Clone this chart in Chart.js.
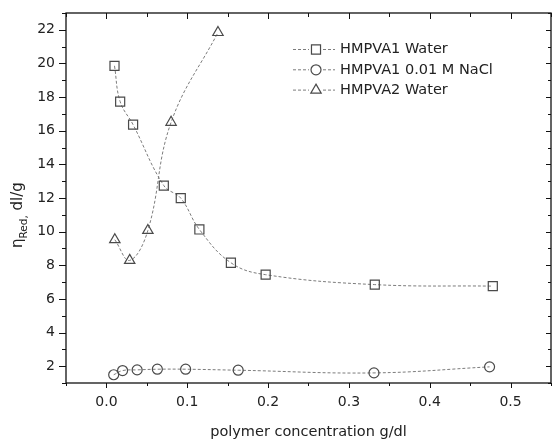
<!DOCTYPE html>
<html lang="en">
<head>
    <meta charset="UTF-8">
    <title>Reduced viscosity vs polymer concentration</title>
    <script src="https://cdn.jsdelivr.net/npm/chart.js@4.4.1/dist/chart.umd.min.js"></script>
    <style>
        body {
            margin: 0;
            padding: 0;
            background: #ffffff;
        }
        #chartContainer {
            position: relative;
            width: 552px;
            height: 439px;
        }
    </style>
</head>
<body>
    <div id="chartContainer">
        <canvas id="viscChart"></canvas>
    </div>

    <script>
        // HMPVA1 in water
        const concWater1 = [0.010, 0.017, 0.033, 0.071, 0.092, 0.115, 0.154, 0.197, 0.332, 0.478];
        const etaWater1 = [19.86, 17.73, 16.36, 12.74, 11.99, 10.13, 8.15, 7.44, 6.85, 6.76];

        // HMPVA1 in 0.01 M NaCl
        const concNaCl1 = [0.009, 0.020, 0.038, 0.063, 0.098, 0.163, 0.331, 0.474];
        const etaNaCl1 = [1.49, 1.74, 1.78, 1.82, 1.82, 1.76, 1.60, 1.96];

        // HMPVA2 in water
        const concWater2 = [0.0104, 0.0288, 0.0513, 0.080, 0.138];
        const etaWater2 = [9.52, 8.29, 10.07, 16.5, 21.84];

        const seriesLabels = ['HMPVA1 Water', 'HMPVA1 0.01 M NaCl', 'HMPVA2 Water'];

        // axis ticks
        const xTickValues = [0.0, 0.1, 0.2, 0.3, 0.4, 0.5];
        const yTickValues = [2, 4, 6, 8, 10, 12, 14, 16, 18, 20, 22];

        const FONT = '"DejaVu Sans", Verdana, sans-serif';
        const lineGray = '#7c7c7c';
        const markGray = '#4a4a4a';

        function pairs(xs, ys) {
            return xs.map((x, i) => ({ x: x, y: ys[i] }));
        }

        function makeSet(label, xs, ys, style, radius) {
            return {
                label: label,
                data: pairs(xs, ys),
                borderColor: lineGray,
                borderWidth: 1,
                borderDash: [3, 2],
                tension: 0.4,
                pointStyle: style,
                pointRadius: radius,
                pointBorderColor: markGray,
                pointBackgroundColor: 'rgba(255,255,255,0)',
                pointBorderWidth: 1.2,
                fill: false
            };
        }

        // marker shapes drawn the same way Chart.js draws them
        function drawMarker(ctx, style, x, y, r) {
            ctx.beginPath();
            if (style === 'rect') {
                const s = Math.SQRT1_2 * r;
                ctx.rect(x - s, y - s, 2 * s, 2 * s);
            } else if (style === 'triangle') {
                let a = 0;
                ctx.moveTo(x + Math.sin(a) * r, y - Math.cos(a) * r);
                a += 2 * Math.PI / 3;
                ctx.lineTo(x + Math.sin(a) * r, y - Math.cos(a) * r);
                a += 2 * Math.PI / 3;
                ctx.lineTo(x + Math.sin(a) * r, y - Math.cos(a) * r);
                ctx.closePath();
            } else {
                ctx.arc(x, y, r, 0, Math.PI * 2);
            }
            ctx.stroke();
        }

        // frame with ticks: outward on left/bottom, inward on top/right
        const framePlugin = {
            id: 'frame',
            afterDraw(chart) {
                const ctx = chart.ctx;
                const a = chart.chartArea;
                const xs = chart.scales.x;
                const ys = chart.scales.y;
                ctx.save();
                ctx.strokeStyle = '#111';
                ctx.lineWidth = 1.3;
                ctx.strokeRect(a.left, a.top, a.right - a.left, a.bottom - a.top);

                ctx.lineWidth = 1;
                ctx.beginPath();
                const xMinor = [];
                for (let v = xs.min; v <= xs.max + 1e-9; v += 0.05) xMinor.push(v);
                xMinor.forEach(v => {
                    const px = Math.round(xs.getPixelForValue(v)) + 0.5;
                    const major = xTickValues.some(t => Math.abs(t - v) < 1e-6);
                    ctx.moveTo(px, a.bottom);
                    ctx.lineTo(px, a.bottom + (major ? 5 : 3));
                    ctx.moveTo(px, a.top);
                    ctx.lineTo(px, a.top + (major ? 6 : 4));
                });
                for (let v = ys.min; v <= ys.max + 1e-9; v += 1) {
                    const py = Math.round(ys.getPixelForValue(v)) + 0.5;
                    const major = yTickValues.includes(v);
                    ctx.moveTo(a.left, py);
                    ctx.lineTo(a.left - (major ? 7 : 4), py);
                    ctx.moveTo(a.right, py);
                    ctx.lineTo(a.right - (major ? 5 : 3), py);
                }
                ctx.stroke();
                ctx.restore();
            }
        };

        // legend inside the plot, line + marker + text per series
        const legendPlugin = {
            id: 'insideLegend',
            afterDraw(chart) {
                const ctx = chart.ctx;
                ctx.save();
                chart.data.datasets.forEach((ds, i) => {
                    const y = 49.5 + i * 20.3;
                    ctx.strokeStyle = ds.borderColor;
                    ctx.lineWidth = 1;
                    ctx.setLineDash(ds.borderDash);
                    ctx.beginPath();
                    ctx.moveTo(293, y);
                    ctx.lineTo(335, y);
                    ctx.stroke();
                    ctx.setLineDash([]);
                    ctx.fillStyle = '#fff';
                    ctx.fillRect(309, y - 6, 14, 12);
                    ctx.strokeStyle = ds.pointBorderColor;
                    ctx.lineWidth = ds.pointBorderWidth;
                    drawMarker(ctx, ds.pointStyle, 316, y, ds.pointRadius);
                    ctx.fillStyle = '#222';
                    ctx.font = '14.5px ' + FONT;
                    ctx.textBaseline = 'middle';
                    ctx.fillText(ds.label, 340, y);
                });
                ctx.restore();
            }
        };

        // rotated y title with the "Red" subscript
        const yTitlePlugin = {
            id: 'yTitle',
            afterDraw(chart) {
                const ctx = chart.ctx;
                ctx.save();
                ctx.translate(22, 248);
                ctx.rotate(-Math.PI / 2);
                ctx.fillStyle = '#222';
                ctx.textBaseline = 'alphabetic';
                ctx.font = '15px ' + FONT;
                ctx.fillText('η', 0, 0);
                let w = ctx.measureText('η').width;
                ctx.font = '10.5px ' + FONT;
                ctx.fillText('Red,', w, 5);
                w += ctx.measureText('Red,').width;
                ctx.font = '15px ' + FONT;
                ctx.fillText(' dl/g', w, 0);
                ctx.restore();
            }
        };

        const config = {
            type: 'line',
            data: {
                datasets: [
                    makeSet(seriesLabels[0], concWater1, etaWater1, 'rect', 6.4),
                    makeSet(seriesLabels[1], concNaCl1, etaNaCl1, 'circle', 5),
                    makeSet(seriesLabels[2], concWater2, etaWater2, 'triangle', 6)
                ]
            },
            options: {
                animation: false,
                responsive: true,
                maintainAspectRatio: false,
                layout: {
                    autoPadding: false,
                    padding: { top: 13, right: 1, bottom: 0, left: 0 }
                },
                plugins: {
                    legend: { display: false },
                    tooltip: { enabled: false }
                },
                scales: {
                    x: {
                        type: 'linear',
                        min: -0.05,
                        max: 0.55,
                        grid: { display: false, drawTicks: false },
                        border: { display: false },
                        afterBuildTicks: s => { s.ticks = xTickValues.map(v => ({ value: v })); },
                        afterFit: s => {
                            s.height = 56;
                            s.paddingLeft = 0;
                            s.paddingRight = 0;
                        },
                        ticks: {
                            padding: 11,
                            color: '#222',
                            font: { size: 14 },
                            callback: v => v.toFixed(1)
                        },
                        title: {
                            display: true,
                            text: 'polymer concentration g/dl',
                            color: '#222',
                            font: { size: 14.5, lineHeight: 1 },
                            padding: { top: 0, bottom: 0 }
                        }
                    },
                    y: {
                        min: 1,
                        max: 23,
                        grid: { display: false, drawTicks: false },
                        border: { display: false },
                        afterBuildTicks: s => { s.ticks = yTickValues.map(v => ({ value: v })); },
                        afterFit: s => {
                            s.width = 66;
                            s.paddingTop = 0;
                            s.paddingBottom = 0;
                        },
                        ticks: {
                            padding: 11,
                            color: '#222',
                            font: { size: 14 }
                        }
                    }
                }
            },
            plugins: [framePlugin, legendPlugin, yTitlePlugin]
        };

        Chart.defaults.font.family = FONT;
        new Chart(document.getElementById('viscChart').getContext('2d'), config);
    </script>
</body>
</html>
